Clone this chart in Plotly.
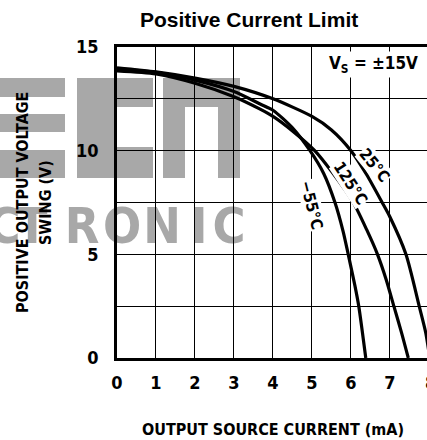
import plotly.graph_objects as go

# ---- data ----
x_25 = [0, 1, 2, 3, 4, 5, 5.5, 6.0, 6.4, 6.8, 7.0, 7.41, 7.75, 7.92, 8.02]
v_25 = [14.0, 13.8, 13.5, 13.1, 12.5, 11.65, 11.0, 10.0, 8.85, 7.5, 6.8, 5.0, 2.5, 1.2, 0.0]

x_125 = [0, 1, 2, 3, 3.67, 4, 4.5, 5.07, 5.5, 6.06, 6.4, 6.68, 6.9, 7.1, 7.3, 7.47]
v_125 = [13.85, 13.7, 13.25, 12.6, 12.0, 11.65, 10.95, 10.0, 9.0, 7.5, 6.2, 5.0, 3.8, 2.5, 1.2, 0.0]

x_m55 = [0, 1, 2, 3, 3.67, 4, 4.5, 4.95, 5.3, 5.59, 5.8, 5.93, 6.1, 6.2, 6.38]
v_m55 = [13.95, 13.78, 13.4, 12.85, 12.25, 11.95, 11.1, 10.0, 8.9, 7.5, 6.1, 5.0, 3.5, 2.5, 0.0]

x_ticks = [0, 1, 2, 3, 4, 5, 6, 7]
x_edge_label = "8"
y_ticks = [0, 2.5, 5, 7.5, 10, 12.5, 15]
y_ticktext = ["0", "", "5", "", "10", "", "15"]

curve_labels = ["25°C", "125°C", "−55°C"]

COND = "Liberation Sans Narrow, DejaVu Sans Condensed, Arial Narrow, sans-serif"
W, H = 427, 440
L, R, T, B = 117, 0, 47, 82
PW, PH = W - L - R, H - T - B
X_MAX = 7.95


def px(xp):
    # pixel x -> paper coordinate
    return (xp - L) / PW


def py(yp):
    # pixel y -> paper coordinate
    return (H - B - yp) / PH


fig = go.Figure()
for xs, vs in [(x_25, v_25), (x_125, v_125), (x_m55, v_m55)]:
    fig.add_trace(go.Scatter(x=xs, y=vs, mode="lines",
                             line=dict(color="black", width=3.2, shape="spline", smoothing=0.7),
                             hoverinfo="skip", showlegend=False))

# ---- watermark blocks (gray, behind grid) ----
gray = "rgb(168,168,168)"
blocks = [
    # E (stem off-canvas)
    (-20, 0, 78, 178), (0, 65, 78, 97), (0, 65, 114, 132), (0, 65, 150, 178),
    # C
    (77, 117, 78, 178), (117, 153, 78, 107), (117, 153, 147, 178),
    # H
    (163, 185, 78, 178), (218, 240, 78, 178), (185, 218, 78, 107),
]
shapes = []
for x0, x1, y0, y1 in blocks:
    shapes.append(dict(type="rect", xref="paper", yref="paper",
                       x0=px(x0), x1=px(x1), y0=py(y1), y1=py(y0),
                       fillcolor=gray, line=dict(width=0), layer="below"))
shapes.append(dict(type="line", xref="paper", yref="paper",
                   x0=px(196), y0=py(117), x1=px(210), y1=py(143),
                   line=dict(color="white", width=2), layer="below"))
letters = [("C", 4), ("T", 32), ("R", 82), ("O", 122), ("N", 162), ("I", 199), ("C", 229)]
for ch, cx in letters:
    shapes.append(dict(type="rect", xref="paper", yref="paper",
                       x0=px(cx - 20), x1=px(cx + 20), y0=py(245), y1=py(199),
                       fillcolor="rgba(0,0,0,0)", line=dict(width=0), layer="below",
                       label=dict(text=ch, font=dict(family=COND, size=50, color=gray, weight="bold"),
                                  textposition="middle center")))

annotations = [
    dict(text="Positive Current Limit", x=px(249), y=py(20), xref="paper", yref="paper",
         xanchor="center", yanchor="middle", showarrow=False,
         font=dict(family="Liberation Sans, Arial, sans-serif", size=21, color="black", weight="bold")),
    dict(text="OUTPUT SOURCE CURRENT (mA)", x=px(273), y=py(430), xref="paper", yref="paper",
         xanchor="center", yanchor="middle", showarrow=False,
         font=dict(family=COND, size=16, color="black", weight="bold")),
    dict(text="POSITIVE OUTPUT VOLTAGE", x=px(22), y=py(203), xref="paper", yref="paper",
         xanchor="center", yanchor="middle", showarrow=False, textangle=-90,
         font=dict(family=COND, size=16, color="black", weight="bold")),
    dict(text="SWING (V)", x=px(45), y=py(203), xref="paper", yref="paper",
         xanchor="center", yanchor="middle", showarrow=False, textangle=-90,
         font=dict(family=COND, size=16, color="black", weight="bold")),
    dict(text="V<sub>S</sub> = ±15V", x=px(373), y=py(64), xref="paper", yref="paper",
         xanchor="center", yanchor="middle", showarrow=False, bgcolor="white",
         font=dict(family=COND, size=17, color="black", weight="bold")),
    # tick label "8" sits on the cut-off right edge
    dict(text=x_edge_label, x=px(430), xref="paper", y=py(382), yref="paper",
         xanchor="center", yanchor="middle", showarrow=False,
         font=dict(family=COND, size=18, color="black", weight="bold")),
]
label_pos = [(375, 165, 51), (351, 183, 57), (312, 205, 76)]
for txt, (lx, ly, ang) in zip(curve_labels, label_pos):
    annotations.append(dict(text=txt, x=px(lx), y=py(ly), xref="paper", yref="paper",
                            xanchor="center", yanchor="middle",
                            showarrow=False, textangle=ang, bgcolor="white", borderpad=0,
                            font=dict(family=COND, size=16, color="black", weight="bold")))

fig.update_layout(
    width=W, height=H,
    margin=dict(l=L, r=R, t=T, b=B),
    paper_bgcolor="white", plot_bgcolor="white",
    shapes=shapes, annotations=annotations,
    xaxis=dict(range=[0, X_MAX], tickvals=x_ticks, ticktext=[str(v) for v in x_ticks],
               showgrid=True, gridcolor="black", gridwidth=1.3,
               showline=True, linecolor="black", linewidth=2.5, mirror=True,
               ticks="", ticklabelstandoff=7, zeroline=False,
               tickfont=dict(family=COND, size=18, color="black", weight="bold")),
    yaxis=dict(range=[0, 15], tickvals=y_ticks, ticktext=y_ticktext,
               showgrid=True, gridcolor="black", gridwidth=1.3,
               showline=True, linecolor="black", linewidth=2.5, mirror=False,
               ticks="", ticklabelstandoff=12, zeroline=False,
               tickfont=dict(family=COND, size=18, color="black", weight="bold")),
)

fig.write_html(
    "out.html",
    config={"displayModeBar": False},
    post_script="document.body.style.margin='0';document.documentElement.style.overflow='hidden';",
)
